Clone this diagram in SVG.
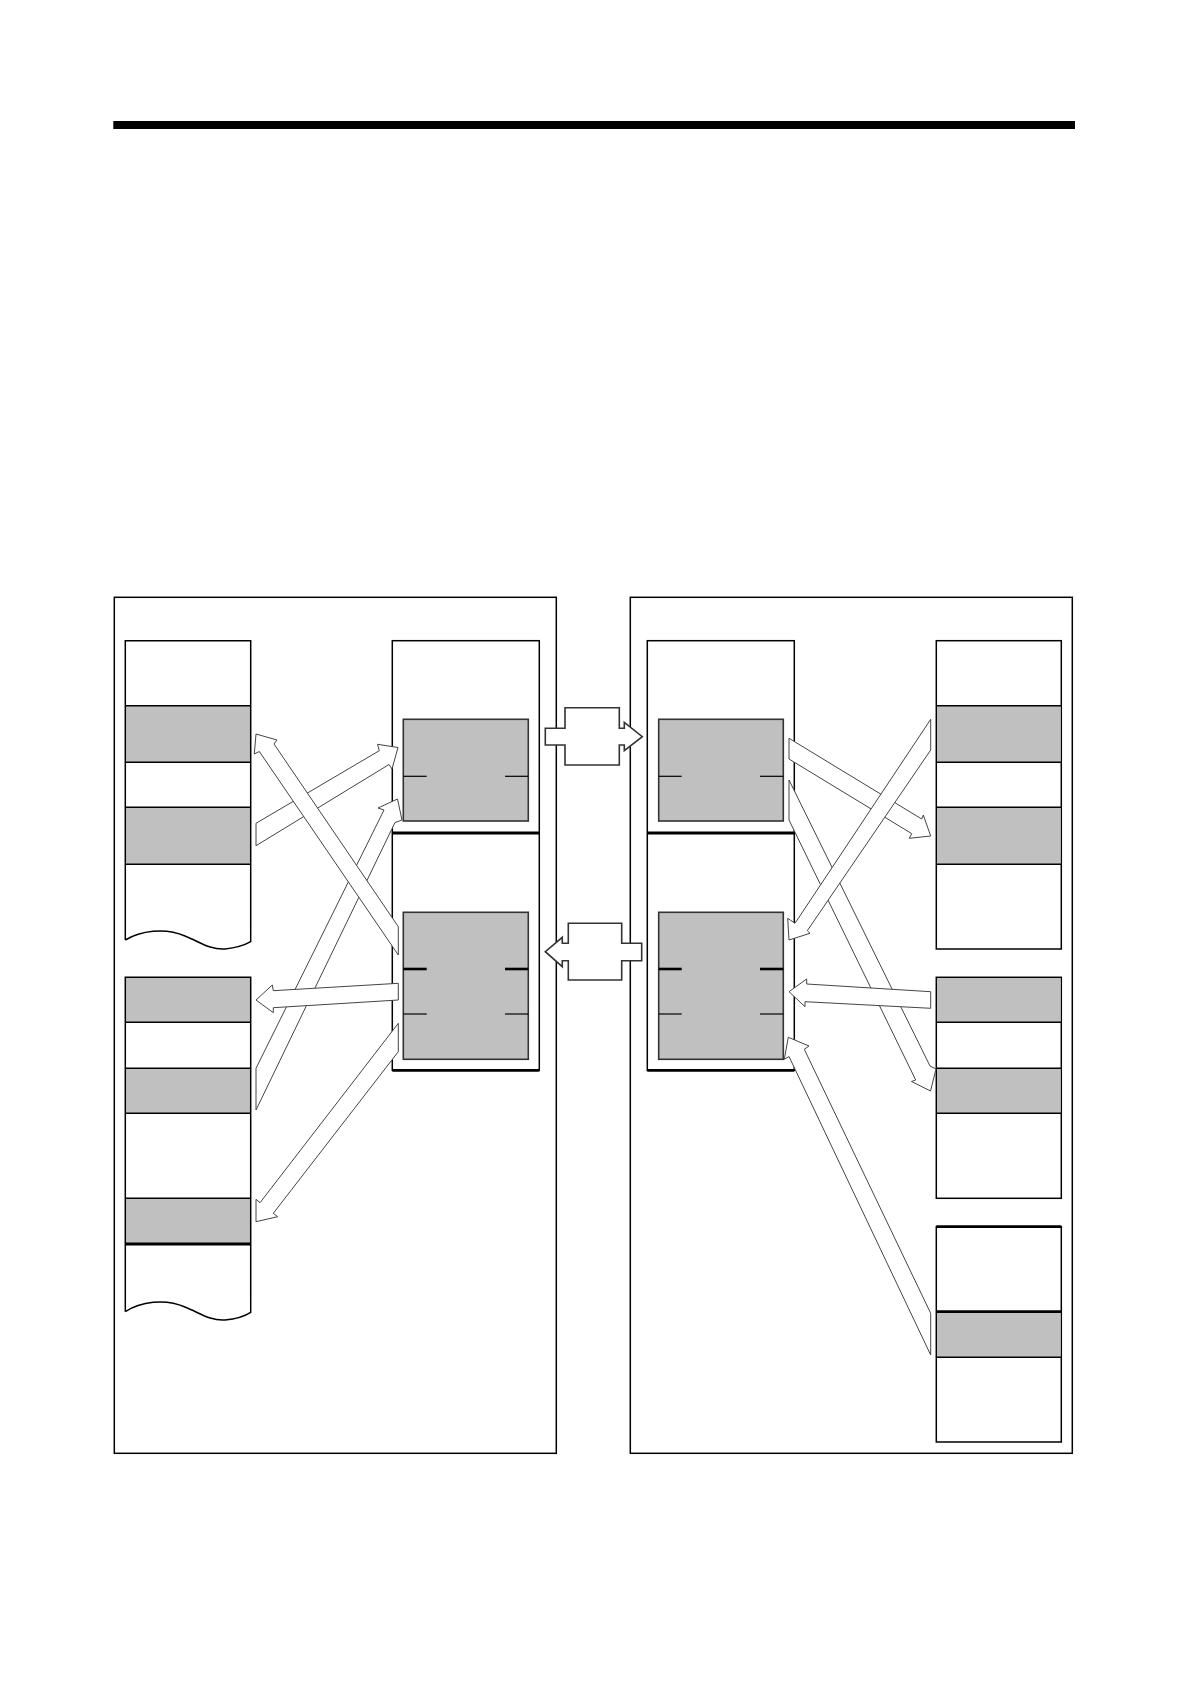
<svg xmlns="http://www.w3.org/2000/svg" width="1190" height="1684" viewBox="0 0 1190 1684">
<style>
.frame{fill:none;stroke:#000;stroke-width:1.5}
.mem{fill:#fff;stroke:#000;stroke-width:1.5}
.band{fill:#c0c0c0;stroke:none}
.div{stroke:#000;stroke-width:1.5}
.divb{stroke:#000;stroke-width:2.8}
.cpu{fill:#fff;stroke:#000;stroke-width:1.5}
.reg{fill:#c0c0c0;stroke:#333;stroke-width:1.6}
.tick{stroke:#000;stroke-width:1.2}
.tickb{stroke:#000;stroke-width:2.6}
.arrow{fill:#fff;stroke:#444;stroke-width:1}
.bus{fill:#fff;stroke:#333;stroke-width:1.6}
</style>
<rect width="1190" height="1684" fill="#fff"/>
<rect id="title-bar" x="113.3" y="121" width="961.7" height="8" fill="#000"/>

<g id="frame-left"><rect class="frame" x="114.3" y="597.3" width="442" height="856"/></g>
<g id="frame-right"><rect class="frame" x="630.3" y="597.3" width="442" height="856"/></g>

<g id="mem-left-1">
<path d="M125.3,640.7 H250.7 V941.7 C245,945 235,948 225,949 C210,950 200,942 185,936 C165,927 140,931 125.3,940 Z" fill="#fff"/>
<rect class="band" x="125.3" y="705.7" width="125.4" height="56.6"/>
<rect class="band" x="125.3" y="807.3" width="125.4" height="57"/>
<line class="div" x1="125.3" y1="705.7" x2="250.7" y2="705.7"/>
<line class="div" x1="125.3" y1="762.3" x2="250.7" y2="762.3"/>
<line class="div" x1="125.3" y1="807.3" x2="250.7" y2="807.3"/>
<line class="div" x1="125.3" y1="864.3" x2="250.7" y2="864.3"/>
<path d="M125.3,940 V640.7 H250.7 V941.7 C245,945 235,948 225,949 C210,950 200,942 185,936 C165,927 140,931 125.3,940" fill="none" stroke="#000" stroke-width="1.5"/>
</g>

<g id="mem-left-2">
<path d="M125.3,977.3 H250.7 V1312.3 C245,1316 235,1319 225,1320 C210,1321 200,1313 185,1307 C165,1298 140,1302 125.3,1311.7 Z" fill="#fff"/>
<rect class="band" x="125.3" y="977.3" width="125.4" height="45"/>
<rect class="band" x="125.3" y="1068.3" width="125.4" height="45"/>
<rect class="band" x="125.3" y="1198.3" width="125.4" height="45.7"/>
<line class="div" x1="125.3" y1="1022.3" x2="250.7" y2="1022.3"/>
<line class="div" x1="125.3" y1="1068.3" x2="250.7" y2="1068.3"/>
<line class="div" x1="125.3" y1="1113.3" x2="250.7" y2="1113.3"/>
<line class="div" x1="125.3" y1="1198.3" x2="250.7" y2="1198.3"/>
<line class="divb" x1="125.3" y1="1244" x2="250.7" y2="1244"/>
<path d="M125.3,1311.7 V977.3 H250.7 V1312.3 C245,1316 235,1319 225,1320 C210,1321 200,1313 185,1307 C165,1298 140,1302 125.3,1311.7" fill="none" stroke="#000" stroke-width="1.5"/>
</g>

<g id="cpu-left">
<rect class="cpu" x="392.3" y="640.7" width="147" height="429.6"/>
<line class="divb" x1="392.3" y1="833" x2="539.3" y2="833"/>
<line class="divb" x1="392.3" y1="1070.3" x2="539.3" y2="1070.3"/>
</g>
<g id="reg-left-top">
<rect class="reg" x="403.3" y="719.3" width="125" height="101.7"/>
<line class="tick" x1="403.3" y1="776.3" x2="426.7" y2="776.3"/>
<line class="tick" x1="505" y1="776.3" x2="528.3" y2="776.3"/>
</g>
<g id="reg-left-bottom">
<rect class="reg" x="403.3" y="912.3" width="125" height="147"/>
<line class="tickb" x1="403.3" y1="969" x2="426.7" y2="969"/>
<line class="tickb" x1="505" y1="969" x2="528.3" y2="969"/>
<line class="tick" x1="403.3" y1="1014" x2="426.7" y2="1014"/>
<line class="tick" x1="505" y1="1014" x2="528.3" y2="1014"/>
</g>

<g id="cpu-right">
<rect class="cpu" x="647.3" y="640.7" width="147" height="429.6"/>
<line class="divb" x1="647.3" y1="833" x2="794.3" y2="833"/>
<line class="divb" x1="647.3" y1="1070.3" x2="794.3" y2="1070.3"/>
</g>
<g id="reg-right-top">
<rect class="reg" x="658.7" y="719.3" width="124.6" height="101.7"/>
<line class="tick" x1="658.7" y1="776.3" x2="681.7" y2="776.3"/>
<line class="tick" x1="760" y1="776.3" x2="783.3" y2="776.3"/>
</g>
<g id="reg-right-bottom">
<rect class="reg" x="658.7" y="912.3" width="124.6" height="147"/>
<line class="tickb" x1="658.7" y1="969" x2="681.7" y2="969"/>
<line class="tickb" x1="760" y1="969" x2="783.3" y2="969"/>
<line class="tick" x1="658.7" y1="1014" x2="681.7" y2="1014"/>
<line class="tick" x1="760" y1="1014" x2="783.3" y2="1014"/>
</g>

<g id="mem-right-1">
<rect class="mem" x="936.3" y="640.7" width="125" height="308.3"/>
<rect class="band" x="937" y="705.7" width="123.6" height="56.6"/>
<rect class="band" x="937" y="807.3" width="123.6" height="57"/>
<line class="div" x1="936.3" y1="705.7" x2="1061.3" y2="705.7"/>
<line class="div" x1="936.3" y1="762.3" x2="1061.3" y2="762.3"/>
<line class="div" x1="936.3" y1="807.3" x2="1061.3" y2="807.3"/>
<line class="div" x1="936.3" y1="864.3" x2="1061.3" y2="864.3"/>
</g>
<g id="mem-right-2">
<rect class="mem" x="936.3" y="977.3" width="125" height="221"/>
<rect class="band" x="937" y="978" width="123.6" height="44.3"/>
<rect class="band" x="937" y="1068.3" width="123.6" height="45"/>
<line class="div" x1="936.3" y1="1022.3" x2="1061.3" y2="1022.3"/>
<line class="div" x1="936.3" y1="1068.3" x2="1061.3" y2="1068.3"/>
<line class="div" x1="936.3" y1="1113.3" x2="1061.3" y2="1113.3"/>
</g>
<g id="mem-right-3">
<rect class="mem" x="936.3" y="1226.7" width="125" height="215.3"/>
<rect class="band" x="937" y="1311.7" width="123.6" height="45.6"/>
<line class="divb" x1="936.3" y1="1226.7" x2="1061.3" y2="1226.7"/>
<line class="divb" x1="936.3" y1="1311.7" x2="1061.3" y2="1311.7"/>
<line class="div" x1="936.3" y1="1357.3" x2="1061.3" y2="1357.3"/>
</g>

<g id="connectors">
<polygon class="bus" points="545.3,728.3 565,728.3 565,707.7 619.3,707.7 619.3,728.3 624.3,728.3 624.3,722.3 642.3,736.7 624.3,750.7 624.3,745 619.3,745 619.3,765 565,765 565,745 545.3,745"/>
<polygon class="bus" points="641.7,943.3 621.7,943.3 621.7,923.3 568.3,923.3 568.3,943.3 562.3,943.3 562.3,937.3 545.3,951.7 562.3,966.7 562.3,960.7 568.3,960.7 568.3,980 621.7,980 621.7,960.7 641.7,960.7"/>

<polygon class="arrow" points="256,823.3 379.3,750.7 377.5,744.3 398,747.5 392,769 389,764.5 256,845.7"/>
<polygon class="arrow" points="256,1068.3 384,810 378,808 397.5,799 402,820 395,822.5 256,1110"/>
<polygon class="arrow" points="256,734 277,740 274,744 398.3,926.7 398.3,955 259.3,751.5 254.3,754"/>
<polygon class="arrow" points="398.3,983.3 273.3,990.7 272.3,985 256,1000 273.3,1012.7 273.3,1007.7 398.3,1000"/>
<polygon class="arrow" points="398.3,1023.3 260,1202.7 256,1199.3 256,1221.7 277.7,1216.7 273.3,1213.3 398.3,1051.7"/>

<polygon class="arrow" points="789,738.3 921.7,819 923.3,815 930.7,836 909.3,838.3 911.7,833.6 789,759"/>
<polygon class="arrow" points="789,780 930,1066 936,1069 930.5,1091 911.5,1081.5 915.7,1080 789,820"/>
<polygon class="arrow" points="930.7,719.3 795,923.3 787.7,918.3 789,940 810,933.3 807.3,930.7 930.7,750"/>
<polygon class="arrow" points="930.7,991.7 806.7,984 806.7,979 789,991.7 805,1006.7 805,1001.7 930.7,1008.3"/>
<polygon class="arrow" points="930.7,1313.3 804.3,1049.3 809,1046 788.3,1037.3 784.3,1059.3 789,1056.5 930.7,1355"/>
</g>
</svg>
